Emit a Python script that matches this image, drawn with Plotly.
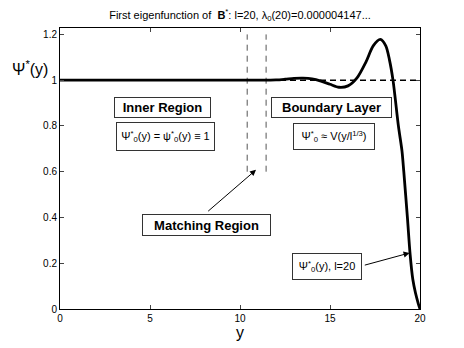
import plotly.graph_objects as go

# Curve data
y_pos = [0, 2, 4, 6, 8, 10, 11, 12, 12.5, 13, 13.5, 14, 14.5, 15, 15.5, 16, 16.5, 17, 17.4, 17.8,
         18.1, 18.3, 18.5, 18.8, 19.0, 19.1, 19.3, 19.45, 19.6, 19.75, 19.9, 20]
psi = [1, 1, 1, 1, 1, 1, 1, 1.001, 1.004, 1.008, 1.009, 1.006, 0.996, 0.982, 0.969, 0.975, 1.01,
       1.08, 1.15, 1.178, 1.15, 1.09, 1.0, 0.8, 0.69, 0.6, 0.4, 0.24, 0.13, 0.07, 0.025, 0]

match_x = [10.4, 11.45]
match_y = [0.6, 1.2]
ref_x = [0, 20]
ref_y = [1, 1]

x_ticks = [0, 5, 10, 15, 20]
y_ticks = [0, 0.2, 0.4, 0.6, 0.8, 1.0, 1.2]
y_tick_labels = ["0", "0.2", "0.4", "0.6", "0.8", "1", "1.2"]

FONT = "Liberation Sans, Arial, Helvetica, sans-serif"

fig = go.Figure()
fig.add_trace(go.Scatter(x=ref_x, y=ref_y, mode="lines",
                         line=dict(color="black", width=1.5, dash="6px,4px"), hoverinfo="skip"))
for mx in match_x:
    fig.add_trace(go.Scatter(x=[mx, mx], y=match_y, mode="lines",
                             line=dict(color="#555", width=1, dash="6px,5px"), hoverinfo="skip"))
fig.add_trace(go.Scatter(x=y_pos, y=psi, mode="lines",
                         line=dict(color="black", width=2.8, shape="spline", smoothing=0.8)))

def box(text, x, y, w, h, size, bold=False):
    t = f"<b>{text}</b>" if bold else text
    fig.add_annotation(x=x, y=y, xref="x", yref="y", text=t, showarrow=False,
                       font=dict(family=FONT, size=size, color="black"),
                       bordercolor="#333", borderwidth=1, borderpad=1,
                       bgcolor="white", width=w, height=h, align="center", valign="middle")

box("Inner Region", 5.67, 0.879, 93, 17, 13, bold=True)
box("Ψ<sup>*</sup><sub>0</sub>(y) = ψ<sup>*</sup><sub>0</sub>(y) ≡ 1", 5.85, 0.754, 95, 25, 11)
box("Boundary Layer", 15.07, 0.879, 117, 17, 13, bold=True)
box("Ψ<sup>*</sup><sub>0</sub> ≈ V(y/l<sup>1/3</sup>)", 15.24, 0.754, 78, 23, 11)
box("Matching Region", 8.12, 0.365, 125, 18, 13, bold=True)
box("Ψ<sup>*</sup><sub>0</sub>(y), l=20", 14.85, 0.186, 66, 23, 11)

def arrow(x0, y0, x1, y1):
    fig.add_annotation(x=x1, y=y1, ax=x0, ay=y0, xref="x", yref="y", axref="x", ayref="y",
                       text="", showarrow=True, arrowhead=2, arrowsize=1.2, arrowwidth=1,
                       arrowcolor="black", standoff=0, startstandoff=0)

arrow(8.15, 0.422, 10.89, 0.608)
arrow(16.85, 0.190, 19.42, 0.245)

fig.add_annotation(x=-0.14, y=1.055, xref="paper", yref="y", xanchor="left",
                   text="Ψ<sup>*</sup>(y)", showarrow=False,
                   font=dict(family=FONT, size=16, color="black"))

fig.update_layout(
    width=456, height=340,
    margin=dict(l=52, r=44, t=20, b=39),
    paper_bgcolor="white", plot_bgcolor="white",
    showlegend=False,
    title=dict(text="First eigenfunction of  <b>B</b><sup>*</sup>: l=20, λ<sub>0</sub>(20)=0.000004147...",
               x=0.5, xref="paper", y=0.98, yanchor="middle",
               font=dict(family=FONT, size=11, color="black")),
    xaxis=dict(range=[0, 20], tickvals=x_ticks, ticks="inside", ticklen=4, mirror="ticks",
               showline=True, linecolor="black", linewidth=1, showgrid=False, zeroline=False,
               tickfont=dict(family=FONT, size=10, color="black"),
               title=dict(text="y", font=dict(family=FONT, size=16, color="black"), standoff=2)),
    yaxis=dict(range=[0, 1.228], tickvals=y_ticks, ticktext=y_tick_labels, ticks="inside",
               ticklen=4, mirror="ticks", showline=True, linecolor="black", linewidth=1,
               showgrid=False, zeroline=False,
               tickfont=dict(family=FONT, size=10, color="black")),
)

fig.write_html("out.html")
